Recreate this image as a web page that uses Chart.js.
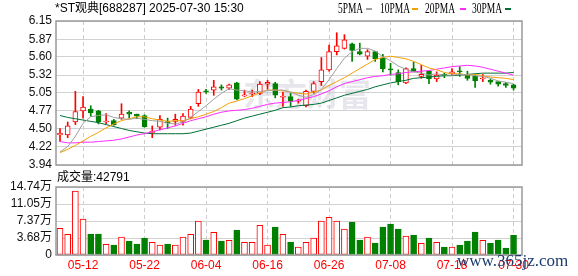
<!DOCTYPE html>
<html>
<head>
<meta charset="utf-8">
<script src="https://cdn.jsdelivr.net/npm/chart.js@4/dist/chart.umd.min.js"></script>
<style>
  html, body { margin: 0; padding: 0; background: #fff; }
  #wrap { position: relative; width: 578px; height: 276px; }
  canvas { position: absolute; left: 0; top: 0; }
</style>
</head>
<body>
<div id="wrap">
  <canvas id="kline" width="578" height="276"></canvas>
  <canvas id="vol" width="578" height="276"></canvas>
</div>
<script>
// trading days 2025-05-07 .. 2025-07-30
const dates = [
  "05-07","05-08","05-09","05-12","05-13","05-14","05-15","05-16","05-19","05-20",
  "05-21","05-22","05-23","05-26","05-27","05-28","05-29","05-30","06-03","06-04",
  "06-05","06-06","06-09","06-10","06-11","06-12","06-13","06-16","06-17","06-18",
  "06-19","06-20","06-23","06-24","06-25","06-26","06-27","06-30","07-01","07-02",
  "07-03","07-04","07-07","07-08","07-09","07-10","07-11","07-14","07-15","07-16",
  "07-17","07-18","07-21","07-22","07-23","07-24","07-25","07-28","07-29","07-30"
];
const xTickLabels = ["05-12","05-22","06-04","06-16","06-26","07-08","07-18","07-30"];

const opens = [
  4.40,4.40,4.60,4.77,4.80,4.77,4.60,4.62,4.66,4.75,
  4.72,4.70,4.44,4.52,4.60,4.61,4.61,4.67,4.88,5.08,
  5.09,5.14,5.12,5.20,5.00,5.03,5.04,5.18,5.19,4.98,
  4.99,4.92,4.85,5.07,5.22,5.40,5.68,5.73,5.80,5.68,
  5.61,5.68,5.58,5.41,5.36,5.20,5.42,5.30,5.38,5.26,
  5.33,5.34,5.38,5.33,5.30,5.26,5.24,5.22,5.19,5.17
];
const highs = [
  4.50,4.60,5.07,4.99,4.85,4.78,4.73,4.64,4.88,4.77,
  4.72,4.71,4.54,4.70,4.66,4.72,4.73,4.84,5.10,5.10,
  5.24,5.17,5.18,5.21,5.09,5.09,5.22,5.24,5.21,5.06,
  5.04,4.95,5.09,5.22,5.59,5.78,5.97,5.94,5.81,5.81,
  5.71,5.68,5.64,5.50,5.40,5.43,5.52,5.47,5.38,5.37,
  5.35,5.42,5.45,5.38,5.32,5.33,5.26,5.22,5.21,5.18
];
const lows = [
  4.30,4.36,4.56,4.66,4.69,4.57,4.57,4.55,4.64,4.66,
  4.65,4.52,4.36,4.48,4.50,4.55,4.55,4.65,4.84,5.04,
  5.01,5.09,5.10,4.94,4.99,4.99,5.02,5.10,4.97,4.84,
  4.84,4.89,4.83,5.04,5.16,5.38,5.63,5.72,5.53,5.63,
  5.56,5.53,5.37,5.32,5.17,5.19,5.37,5.27,5.19,5.22,
  5.28,5.32,5.30,5.24,5.13,5.22,5.18,5.15,5.13,5.09
];
const closes = [
  4.43,4.54,4.76,4.83,4.74,4.60,4.61,4.56,4.72,4.72,
  4.69,4.53,4.45,4.64,4.59,4.64,4.69,4.80,5.06,5.06,
  5.14,5.12,5.17,4.95,5.01,5.04,5.18,5.21,5.01,4.99,
  4.92,4.93,5.07,5.19,5.40,5.68,5.77,5.86,5.70,5.64,
  5.68,5.57,5.42,5.40,5.22,5.42,5.37,5.33,5.26,5.32,
  5.31,5.37,5.37,5.27,5.23,5.27,5.21,5.18,5.16,5.12
];

const ma5 = [
  4.14,4.22,4.38,4.58,4.68,4.70,4.71,4.67,4.65,4.64,
  4.66,4.64,4.62,4.61,4.58,4.57,4.60,4.67,4.76,4.85,
  4.95,5.04,5.11,5.09,5.08,5.06,5.07,5.08,5.09,5.09,
  5.06,5.01,4.98,5.02,5.10,5.25,5.42,5.58,5.68,5.73,
  5.73,5.69,5.60,5.54,5.46,5.41,5.37,5.35,5.32,5.34,
  5.32,5.32,5.33,5.33,5.31,5.30,5.27,5.23,5.21,5.19
];
const ma10 = [
  4.13,4.18,4.24,4.31,4.38,4.44,4.51,4.57,4.62,4.65,
  4.68,4.68,4.65,4.63,4.61,4.62,4.62,4.65,4.68,4.72,
  4.76,4.82,4.89,4.92,4.96,5.00,5.05,5.09,5.09,5.08,
  5.06,5.04,5.03,5.06,5.09,5.16,5.22,5.28,5.35,5.42,
  5.49,5.56,5.59,5.61,5.59,5.57,5.53,5.48,5.43,5.40,
  5.36,5.34,5.34,5.32,5.33,5.31,5.29,5.28,5.27,5.25
];
const ma20 = [
  4.30,4.28,4.28,4.29,4.29,4.30,4.31,4.32,4.34,4.37,
  4.40,4.42,4.45,4.48,4.51,4.54,4.58,4.62,4.65,4.68,
  4.72,4.75,4.77,4.78,4.79,4.81,4.84,4.87,4.89,4.90,
  4.91,4.93,4.96,4.99,5.03,5.08,5.14,5.19,5.22,5.25,
  5.28,5.30,5.31,5.33,5.34,5.36,5.37,5.38,5.39,5.41,
  5.43,5.45,5.46,5.47,5.46,5.44,5.41,5.38,5.35,5.32
];
const ma30 = [
  4.70,4.67,4.65,4.63,4.61,4.59,4.56,4.53,4.50,4.47,
  4.45,4.43,4.42,4.42,4.42,4.42,4.42,4.43,4.46,4.49,
  4.52,4.55,4.58,4.62,4.66,4.69,4.72,4.75,4.78,4.82,
  4.83,4.85,4.86,4.87,4.89,4.93,4.97,5.01,5.04,5.07,
  5.10,5.14,5.17,5.20,5.22,5.24,5.27,5.28,5.29,5.30,
  5.31,5.31,5.32,5.33,5.34,5.35,5.35,5.35,5.35,5.36
];

// volume in 万 shares
const volumes = [
  5.78,4.48,13.87,7.78,4.52,4.52,2.31,2.14,3.86,3.03,
  2.38,3.68,2.75,2.14,2.38,2.14,3.86,4.48,7.33,3.25,
  4.91,3.03,3.18,5.42,2.75,2.75,6.43,2.14,6.07,4.48,
  2.82,1.73,2.75,3.68,7.37,8.16,7.37,5.64,7.15,3.25,
  3.90,2.60,6.07,6.72,5.64,4.12,4.34,2.53,3.68,2.75,
  1.73,1.73,2.17,3.03,4.99,3.18,2.60,3.25,1.52,4.2791
];

const priceTicks = [3.94, 4.22, 4.50, 4.77, 5.05, 5.32, 5.60, 5.87, 6.15];
const volTicks = [0, 3.68, 7.37, 11.05, 14.74];

const title = "*ST观典[688287] 2025-07-30 15:30";
const maNames = ["5PMA", "10PMA", "20PMA", "30PMA"];
const maColors = ["#a0a0a0", "#f5a000", "#ff2bff", "#006f35"];

const RED = "#ff0000", GREEN = "#008000";
const FONT = "'Liberation Sans', 'Noto Sans CJK SC', sans-serif";
Chart.defaults.font.family = FONT;
Chart.defaults.font.size = 12;
Chart.defaults.animation = false;

const up = closes.map((c, i) => c >= opens[i]);
const tickIdx = xTickLabels.map(d => dates.indexOf(d));

function xAxis(showLabels) {
  return {
    type: "linear", min: -0.52, max: 60.1, offset: false,
    afterBuildTicks: s => { s.ticks = tickIdx.map(i => ({ value: i })); },
    afterFit: s => { s.height = showLabels ? 21 : 0; },
    grid: { color: "#cccccc", lineWidth: 1, drawTicks: false, offset: false },
    border: { display: false, dash: [4, 3] },
    ticks: { display: showLabels, color: RED, padding: 3, autoSkip: false, maxRotation: 0,
             callback: v => dates[v] }
  };
}

// frame around plot area
const frame = {
  id: "frame",
  afterDraw(chart) {
    const { ctx, chartArea: a } = chart;
    ctx.save();
    ctx.strokeStyle = "#9a9a9a";
    ctx.lineWidth = 1.5;
    ctx.strokeRect(a.left, a.top, a.right - a.left, a.bottom - a.top);
    ctx.restore();
  }
};

// watermark + header texts for the K-line panel
const klineTexts = {
  id: "klineTexts",
  beforeDatasetsDraw(chart) {
    const ctx = chart.ctx;
    ctx.save();
    ctx.font = "bold 32px 'Noto Sans CJK SC'";
    ctx.fillStyle = "rgba(200,200,212,0.45)";
    ctx.textBaseline = "middle";
    ctx.fillText("东方财富", 243, 94);
    ctx.restore();
  },
  afterDraw(chart) {
    const ctx = chart.ctx;
    ctx.save();
    ctx.textBaseline = "middle";
    ctx.fillStyle = "#000";
    ctx.font = "12px " + FONT;
    ctx.fillText(title, 55, 9);

    // legend: name then a short coloured dash
    const pos = [[338, 25, 366], [380, 30, 412], [425, 30, 460], [472, 30, 505]];
    ctx.font = "14px 'Liberation Serif'";
    maNames.forEach((n, i) => {
      const [x, w, sx] = pos[i];
      ctx.fillStyle = "#000";
      ctx.fillText(n, x, 9, w);
      ctx.fillStyle = maColors[i];
      ctx.fillRect(sx, 8, 6, 2);
    });

    ctx.fillStyle = "#000";
    ctx.font = "12px " + FONT;
    ctx.fillText("成交量:" + Math.round(volumes[volumes.length - 1] * 10000), 57, 178);
    ctx.restore();
  }
};

const siteMark = {
  id: "siteMark",
  afterDraw(chart) {
    const ctx = chart.ctx;
    ctx.save();
    ctx.font = "17px 'Liberation Serif'";
    ctx.fillStyle = "#1b3b6f";
    ctx.textBaseline = "alphabetic";
    ctx.fillText("www.365jz.com", 457, 266);
    ctx.restore();
  }
};

const maSets = [ma5, ma10, ma20, ma30].map((arr, k) => ({
  type: "line",
  data: arr.map((v, i) => ({ x: i, y: v })),
  borderColor: maColors[k],
  borderWidth: 1,
  pointRadius: 0,
  tension: 0,
  order: k + 1
}));

new Chart(document.getElementById("kline"), {
  type: "bar",
  data: {
    datasets: [
      ...maSets,
      {
        type: "bar",
        data: opens.map((o, i) => ({ x: i, y: [o, closes[i]] })),
        backgroundColor: up.map(u => u ? "#ffffff" : GREEN),
        borderColor: up.map(u => u ? RED : GREEN),
        borderWidth: 1,
        borderSkipped: false,
        barThickness: 5,
        minBarLength: 1,
        grouped: false,
        order: 5
      },
      {
        type: "bar",
        data: lows.map((l, i) => ({ x: i, y: [l, highs[i]] })),
        backgroundColor: up.map(u => u ? RED : GREEN),
        barThickness: 1,
        grouped: false,
        order: 6
      }
    ]
  },
  options: {
    responsive: false,
    devicePixelRatio: 1,
    layout: { padding: { top: 21, right: 56, bottom: 111, left: 0 } },
    plugins: { legend: { display: false }, tooltip: { enabled: false } },
    scales: {
      x: xAxis(false),
      y: {
        min: 3.94, max: 6.15,
        afterBuildTicks: s => { s.ticks = priceTicks.map(v => ({ value: v })); },
        afterFit: s => { s.width = 56; },
        grid: { color: "#d2d2d2", drawTicks: false },
        border: { display: false },
        ticks: { color: "#111", padding: 4, autoSkip: false, callback: v => v.toFixed(2) }
      }
    }
  },
  plugins: [klineTexts, frame]
});

new Chart(document.getElementById("vol"), {
  type: "bar",
  data: {
    datasets: [{
      data: volumes.map((v, i) => ({ x: i, y: v })),
      backgroundColor: up.map(u => u ? "#ffffff" : GREEN),
      borderColor: up.map(u => u ? RED : GREEN),
      borderWidth: 1,
      borderSkipped: false,
      barThickness: 6,
      grouped: false
    }]
  },
  options: {
    responsive: false,
    devicePixelRatio: 1,
    layout: { padding: { top: 187, right: 56, bottom: 0, left: 0 } },
    plugins: { legend: { display: false }, tooltip: { enabled: false } },
    scales: {
      x: xAxis(true),
      y: {
        min: 0, max: 14.74,
        afterBuildTicks: s => { s.ticks = volTicks.map(v => ({ value: v })); },
        afterFit: s => { s.width = 56; },
        grid: { color: "#d2d2d2", drawTicks: false },
        border: { display: false },
        ticks: { color: "#111", padding: 4, autoSkip: false,
                 callback: v => v === 0 ? "0" : v.toFixed(2) + "万" }
      }
    }
  },
  plugins: [frame, siteMark]
});
</script>
</body>
</html>
